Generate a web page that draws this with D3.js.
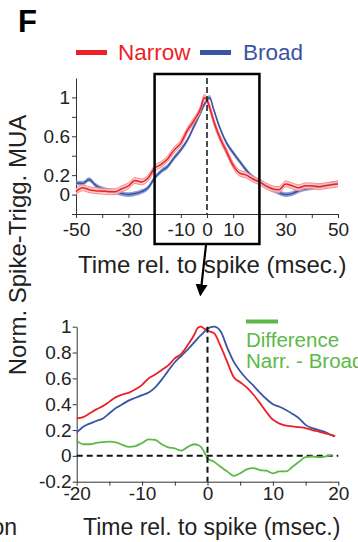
<!DOCTYPE html>
<html>
<head>
<meta charset="utf-8">
<script src="https://cdn.jsdelivr.net/npm/d3@7"></script>
<style>
  body { margin: 0; background: #fff; }
  svg { display: block; font-family: "Liberation Sans", Arial, sans-serif; }
  .axis path, .axis line { stroke: #333; stroke-width: 1; }
  .axis text { fill: #222; font-size: 19px; }
</style>
</head>
<body>
<div id="chart"></div>
<script>
// top panel: full window, -50..50 ms
const topTime = [-50, -47.5, -45, -42.5, -40, -37.5, -35, -32.5, -30, -27.5, -25, -22.5, -20, -17.5, -15, -12.5, -10, -7.5, -5, -2.5, -1, 0, 1, 2.5, 5, 7.5, 10, 12.5, 15, 17.5, 20, 22.5, 25, 27.5, 30, 32.5, 35, 37.5, 40, 42.5, 45, 47.5, 50];
const topNarrow = [0.03, 0.07, 0.05, 0.04, 0.035, 0.03, 0.03, 0.06, 0.09, 0.145, 0.13, 0.17, 0.27, 0.31, 0.37, 0.46, 0.53, 0.66, 0.76, 0.88, 1.0, 0.97, 0.9, 0.76, 0.58, 0.44, 0.3, 0.22, 0.2, 0.16, 0.13, 0.09, 0.06, 0.05, 0.11, 0.09, 0.07, 0.09, 0.09, 0.08, 0.09, 0.1, 0.11];
const topBroad = [0.12, 0.115, 0.155, 0.095, 0.06, 0.04, 0.025, 0.01, 0.0, 0.01, 0.03, 0.07, 0.17, 0.24, 0.29, 0.38, 0.46, 0.56, 0.7, 0.84, 0.93, 0.97, 1.0, 0.88, 0.68, 0.53, 0.43, 0.34, 0.25, 0.18, 0.13, 0.09, 0.05, 0.02, 0.0, 0.01, 0.04, 0.06, 0.07, 0.09, 0.09, 0.11, 0.12];
const narrowSem = 0.03;
const broadSem = 0.024;
const topXTicks = [-50, -40, -30, -20, -10, 0, 10, 20, 30, 40, 50];
const topXLabels = [-50, -30, -10, 0, 10, 30, 50];
const topYTicks = [-0.2, 0, 0.2, 0.4, 0.6, 0.8, 1];
const topYLabels = [0, 0.2, 0.6, 1];

// bottom panel: zoom on -20..20 ms
const botTime = [-20, -19, -18, -17, -16, -15, -14, -13, -12, -11, -10, -9, -8, -7, -6, -5, -4, -3, -2, -1.5, -1, -0.5, 0, 1, 2, 3, 4, 5, 6, 7, 8, 9, 10, 11, 12, 13, 14, 15, 16, 17, 18, 19, 19.5];
const botNarrow = [0.29, 0.3, 0.33, 0.36, 0.385, 0.42, 0.455, 0.475, 0.49, 0.515, 0.55, 0.6, 0.63, 0.665, 0.7, 0.755, 0.79, 0.86, 0.94, 0.99, 1.0, 0.985, 0.97, 0.95, 0.85, 0.73, 0.61, 0.57, 0.53, 0.475, 0.41, 0.34, 0.28, 0.25, 0.235, 0.228, 0.222, 0.215, 0.2, 0.188, 0.175, 0.16, 0.15];
const botBroad = [0.18, 0.225, 0.25, 0.27, 0.29, 0.33, 0.37, 0.4, 0.43, 0.45, 0.47, 0.49, 0.53, 0.59, 0.66, 0.725, 0.775, 0.825, 0.88, 0.91, 0.935, 0.96, 0.985, 1.0, 0.965, 0.84, 0.73, 0.655, 0.595, 0.545, 0.49, 0.44, 0.4, 0.38, 0.355, 0.325, 0.29, 0.24, 0.215, 0.2, 0.185, 0.16, 0.15];
const botDiff = [0.118, 0.09, 0.09, 0.1, 0.107, 0.11, 0.105, 0.085, 0.07, 0.076, 0.1, 0.128, 0.123, 0.09, 0.066, 0.058, 0.04, 0.07, 0.09, 0.085, 0.07, 0.03, -0.02, -0.045, -0.085, -0.12, -0.155, -0.135, -0.105, -0.095, -0.11, -0.115, -0.135, -0.12, -0.12, -0.085, -0.045, -0.01, -0.005, -0.01, -0.005, 0.007, 0.01];
const botXTicks = [-20, -15, -10, -5, 0, 5, 10, 15, 20];
const botXLabels = [-20, -10, 0, 10, 20];
const botYTicks = [-0.2, 0, 0.2, 0.4, 0.6, 0.8, 1];

const RED = '#ed1f27';
const BLUE = '#3a54a4';
const GREEN = '#5cb947';

const width = 358;
const height = 542;
const svg = d3.select('#chart')
  .append('svg')
  .attr('width', width)
  .attr('height', height);

const fmt = d => (d === 0 ? '0' : String(d));

// ---------- top panel ----------
const xTop = d3.scaleLinear().domain([-50, 50]).range([76, 338]);
const yTop = d3.scaleLinear().domain([-0.2, 1.2]).range([214, 78]);

const topG = svg.append('g');

topG.append('g')
  .attr('class', 'axis')
  .attr('transform', 'translate(0,214)')
  .call(d3.axisBottom(xTop).tickValues(topXTicks).tickSize(4).tickSizeOuter(0).tickPadding(5)
    .tickFormat(d => topXLabels.includes(d) ? fmt(d) : ''));

topG.append('g')
  .attr('class', 'axis')
  .attr('transform', 'translate(76,0)')
  .call(d3.axisLeft(yTop).tickValues(topYTicks).tickSize(4).tickSizeOuter(0).tickPadding(2)
    .tickFormat(d => topYLabels.includes(d) ? fmt(d) : ''));

const topData = topTime.map((t, i) => ({ t, n: topNarrow[i], b: topBroad[i] }));

const bandArea = (key, sem) => d3.area()
  .x(d => xTop(d.t))
  .y0(d => yTop(d[key] - sem))
  .y1(d => yTop(d[key] + sem))
  .curve(d3.curveMonotoneX);
const topLine = key => d3.line()
  .x(d => xTop(d.t))
  .y(d => yTop(d[key]))
  .curve(d3.curveMonotoneX);
const edgeLine = (key, off) => d3.line()
  .x(d => xTop(d.t))
  .y(d => yTop(d[key] + off))
  .curve(d3.curveMonotoneX);

// broad band + line
topG.append('path').datum(topData)
  .attr('d', bandArea('b', broadSem))
  .attr('fill', '#7d8dcc').attr('opacity', 0.85);
topG.append('path').datum(topData)
  .attr('d', topLine('b'))
  .attr('fill', 'none').attr('stroke', BLUE).attr('stroke-width', 1.5);

// narrow band + edges + line
topG.append('path').datum(topData)
  .attr('d', bandArea('n', narrowSem))
  .attr('fill', '#f9c4c4').attr('opacity', 0.85);
[-narrowSem, narrowSem].forEach(off => {
  topG.append('path').datum(topData)
    .attr('d', edgeLine('n', off))
    .attr('fill', 'none').attr('stroke', '#f28a8a').attr('stroke-width', 1);
});
topG.append('path').datum(topData)
  .attr('d', topLine('n'))
  .attr('fill', 'none').attr('stroke', RED).attr('stroke-width', 1.5);

// dashed zero line
topG.append('line')
  .attr('x1', xTop(0)).attr('x2', xTop(0))
  .attr('y1', yTop(1.2)).attr('y2', yTop(-0.2))
  .attr('stroke', '#111').attr('stroke-width', 1.5)
  .attr('stroke-dasharray', '6,3');

// zoom box
topG.append('rect')
  .attr('x', xTop(-20)).attr('y', 74)
  .attr('width', xTop(20) - xTop(-20)).attr('height', 170)
  .attr('fill', 'none').attr('stroke', '#000').attr('stroke-width', 2.5);

// arrow to the bottom panel
svg.append('defs').append('marker')
  .attr('id', 'arrow')
  .attr('viewBox', '0 0 10 10')
  .attr('refX', 8).attr('refY', 5)
  .attr('markerWidth', 5.5).attr('markerHeight', 5.5)
  .attr('orient', 'auto-start-reverse')
  .append('path')
  .attr('d', 'M0,0 L10,5 L0,10 Z')
  .attr('fill', '#000');
svg.append('line')
  .attr('x1', xTop(0) - 1).attr('y1', 245)
  .attr('x2', xTop(0) - 6.5).attr('y2', 294)
  .attr('stroke', '#000').attr('stroke-width', 2.2)
  .attr('marker-end', 'url(#arrow)');

topG.append('text')
  .attr('x', 78).attr('y', 273)
  .attr('font-size', 24).attr('fill', '#222')
  .text('Time rel. to spike (msec.)');

// legend
const legend = svg.append('g');
legend.append('line').attr('x1', 76).attr('x2', 107).attr('y1', 52.5).attr('y2', 52.5)
  .attr('stroke', RED).attr('stroke-width', 5);
legend.append('text').attr('x', 118).attr('y', 60).attr('font-size', 22.5).attr('fill', RED).text('Narrow');
legend.append('line').attr('x1', 200).attr('x2', 231).attr('y1', 52.5).attr('y2', 52.5)
  .attr('stroke', BLUE).attr('stroke-width', 5);
legend.append('text').attr('x', 243).attr('y', 60).attr('font-size', 22.5).attr('fill', BLUE).text('Broad');

svg.append('text')
  .attr('x', 18).attr('y', 32)
  .attr('font-size', 31).attr('font-weight', 'bold').attr('fill', '#000')
  .text('F');

// ---------- bottom panel ----------
const xBot = d3.scaleLinear().domain([-20, 20]).range([76.7, 338.3]);
const yBot = d3.scaleLinear().domain([-0.2, 1]).range([481.7, 326.7]);
const botG = svg.append('g');

botG.append('g')
  .attr('class', 'axis')
  .attr('transform', 'translate(0,' + yBot(-0.2) + ')')
  .call(d3.axisBottom(xBot).tickValues(botXTicks).tickSize(4).tickSizeOuter(0).tickPadding(1)
    .tickFormat(d => botXLabels.includes(d) ? fmt(d) : ''));

botG.append('g')
  .attr('class', 'axis')
  .attr('transform', 'translate(' + xBot(-20) + ',0)')
  .call(d3.axisLeft(yBot).tickValues(botYTicks).tickSize(4).tickSizeOuter(0).tickPadding(1)
    .tickFormat(fmt));

const botData = botTime.map((t, i) => ({ t, n: botNarrow[i], b: botBroad[i], d: botDiff[i] }));
const botLine = key => d3.line()
  .x(d => xBot(d.t))
  .y(d => yBot(d[key]))
  .curve(d3.curveMonotoneX);

// dashed reference lines
botG.append('line')
  .attr('x1', xBot(-20)).attr('x2', xBot(20))
  .attr('y1', yBot(0)).attr('y2', yBot(0))
  .attr('stroke', '#111').attr('stroke-width', 2)
  .attr('stroke-dasharray', '6,4');

botG.append('path').datum(botData.slice(0, -1))
  .attr('d', botLine('d'))
  .attr('fill', 'none').attr('stroke', GREEN).attr('stroke-width', 1.8);
botG.append('path').datum(botData)
  .attr('d', botLine('b'))
  .attr('fill', 'none').attr('stroke', BLUE).attr('stroke-width', 1.8);
botG.append('path').datum(botData)
  .attr('d', botLine('n'))
  .attr('fill', 'none').attr('stroke', RED).attr('stroke-width', 1.8);

botG.append('line')
  .attr('x1', xBot(0)).attr('x2', xBot(0))
  .attr('y1', yBot(1)).attr('y2', yBot(-0.2))
  .attr('stroke', '#111').attr('stroke-width', 2)
  .attr('stroke-dasharray', '6,4');

// green legend
botG.append('line').attr('x1', 246).attr('x2', 278).attr('y1', 321.5).attr('y2', 321.5)
  .attr('stroke', GREEN).attr('stroke-width', 4);
botG.append('text').attr('x', 246).attr('y', 346.5).attr('font-size', 20.5).attr('fill', GREEN).text('Difference');
botG.append('text').attr('x', 246).attr('y', 368).attr('font-size', 20.5).attr('fill', GREEN).text('Narr. - Broad');

botG.append('text')
  .attr('x', 83).attr('y', 535)
  .attr('font-size', 23).attr('fill', '#222')
  .text('Time rel. to spike (msec.)');

// shared y label
svg.append('text')
  .attr('transform', 'translate(26,245) rotate(-90)')
  .attr('text-anchor', 'middle')
  .attr('font-size', 24).attr('fill', '#222')
  .text('Norm. Spike-Trigg. MUA');

// clipped label from neighbouring panel
svg.append('text')
  .attr('x', 17).attr('y', 535)
  .attr('text-anchor', 'end')
  .attr('font-size', 23).attr('fill', '#222')
  .text('on');
</script>
</body>
</html>
